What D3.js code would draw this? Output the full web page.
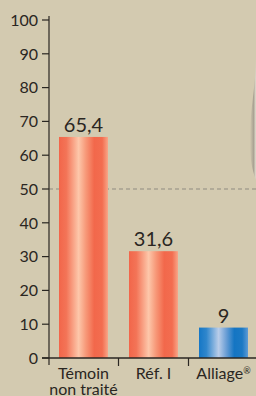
<!DOCTYPE html>
<html lang="fr">
<head>
<meta charset="UTF-8">
<script src="https://d3js.org/d3.v7.min.js"></script>
<style>
  html, body { margin: 0; padding: 0; background: #d3cab0; overflow: hidden; }
  text { font-family: Lato, "Open Sans", sans-serif; fill: #2a2622; }
</style>
</head>
<body>
<div id="chart"></div>
<script>
const categories = ["Témoin|non traité", "Réf. I", "Alliage"];
const values = [65.4, 31.6, 9];
const valueLabels = ["65,4", "31,6", "9"];
const barKinds = ["red", "red", "blue"];
const yTicks = [0, 10, 20, 30, 40, 50, 60, 70, 80, 90, 100];
const refLine = 50;

const width = 256, height = 396;
const margin = { top: 20, right: 8, bottom: 38, left: 49 };

const svg = d3.select("#chart").append("svg")
  .attr("width", width).attr("height", height)
  .style("display", "block");

svg.append("rect").attr("width", width).attr("height", height).attr("fill", "#d3cab0");

const defs = svg.append("defs");
const gradStops = {
  red: [["0%", "#f2664a"], ["15%", "#f37457"], ["40%", "#fdc7aa"], ["55%", "#f79878"], ["72%", "#f2684b"], ["88%", "#f36d50"], ["100%", "#f8a688"]],
  blue: [["0%", "#1577c6"], ["15%", "#2f86cc"], ["40%", "#b9cde9"], ["55%", "#6ea0d6"], ["72%", "#1475c3"], ["88%", "#1b79c4"], ["100%", "#5d9bd6"]]
};
Object.keys(gradStops).forEach(k => {
  const g = defs.append("linearGradient").attr("id", "g-" + k)
    .attr("x1", "0%").attr("x2", "100%").attr("y1", "0%").attr("y2", "0%");
  gradStops[k].forEach(s => g.append("stop").attr("offset", s[0]).attr("stop-color", s[1]));
});
const shade = defs.append("linearGradient").attr("id", "shade")
  .attr("x1", "0%").attr("x2", "100%");
shade.append("stop").attr("offset", "0%").attr("stop-color", "#d3cab0");
shade.append("stop").attr("offset", "60%").attr("stop-color", "#9c968a");
shade.append("stop").attr("offset", "100%").attr("stop-color", "#e8e4da");

// page curl shadow at right edge
svg.append("path")
  .attr("d", "M256,55 C256,90 249,110 250,150 C251,165 253,172 256,180 Z")
  .attr("fill", "url(#shade)").attr("opacity", 0.75);

const x = d3.scaleBand().domain(categories)
  .range([48.5, 258.5]).paddingInner(0.3).paddingOuter(0.15);
const y = d3.scaleLinear().domain([0, 100])
  .range([height - margin.bottom, margin.top]);

// dashed reference line
svg.append("line")
  .attr("x1", margin.left).attr("x2", width)
  .attr("y1", y(refLine)).attr("y2", y(refLine))
  .attr("stroke", "#8f8b80").attr("stroke-width", 1)
  .attr("stroke-dasharray", "4,3");

svg.selectAll("rect.bar").data(values).enter().append("rect")
  .attr("class", "bar")
  .attr("x", (d, i) => x(categories[i]))
  .attr("y", d => y(d))
  .attr("width", x.bandwidth())
  .attr("height", d => y(0) - y(d))
  .attr("fill", (d, i) => "url(#g-" + barKinds[i] + ")");

svg.selectAll("text.val").data(values).enter().append("text")
  .attr("class", "val")
  .attr("x", (d, i) => x(categories[i]) + x.bandwidth() / 2)
  .attr("y", d => y(d) - 5)
  .attr("text-anchor", "middle")
  .attr("font-size", 20)
  .text((d, i) => valueLabels[i]);

// y axis
const yAxis = svg.append("g").attr("transform", `translate(${margin.left},0)`);
yAxis.append("line").attr("x1", 0).attr("x2", 0)
  .attr("y1", y(100) - 4).attr("y2", y(0) + 7)
  .attr("stroke", "#2a2622").attr("stroke-width", 1.2);
yTicks.forEach(t => {
  yAxis.append("line").attr("x1", -7).attr("x2", 0)
    .attr("y1", y(t)).attr("y2", y(t))
    .attr("stroke", "#2a2622").attr("stroke-width", 1.2);
  yAxis.append("text").attr("x", -11).attr("y", y(t))
    .attr("dy", "0.36em").attr("text-anchor", "end")
    .attr("font-size", 16).text(t);
});

// x axis
svg.append("line").attr("x1", margin.left - 7).attr("x2", width)
  .attr("y1", y(0)).attr("y2", y(0))
  .attr("stroke", "#2a2622").attr("stroke-width", 1.6);
const step = x.step();
categories.slice(1).forEach(c => {
  const tx = x(c) - (step - x.bandwidth()) / 2;
  svg.append("line").attr("x1", tx).attr("x2", tx)
    .attr("y1", y(0)).attr("y2", y(0) + 8)
    .attr("stroke", "#2a2622").attr("stroke-width", 1.2);
});

categories.forEach((c, i) => {
  const cx = x(c) + x.bandwidth() / 2;
  const t = svg.append("text").attr("x", cx).attr("y", y(0) + 21)
    .attr("text-anchor", "middle").attr("font-size", 16);
  const lines = c.split("|");
  lines.forEach((l, j) => {
    t.append("tspan").attr("x", cx).attr("dy", j === 0 ? 0 : 16).text(l);
  });
  if (i === 2) t.append("tspan").attr("font-size", 9).attr("dy", -5).text("®");
});
</script>
</body>
</html>
